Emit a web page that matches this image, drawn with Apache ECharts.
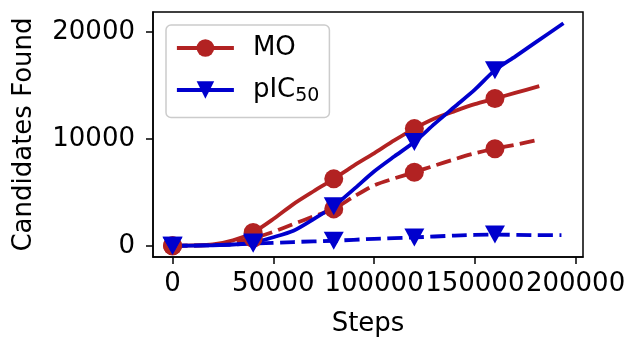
<!DOCTYPE html>
<html lang="en">
<head>
<meta charset="UTF-8">
<title>Candidates Found</title>
<style>
    * { margin: 0; padding: 0; }
    #chart { width: 631px; height: 337px; background: #fff; }
</style>
<script src="https://cdn.jsdelivr.net/npm/echarts@6/dist/echarts.min.js"></script>
</head>
<body>
<div id="chart"></div>
<script>
// steps where the markers sit
var markerSteps = [0, 40000, 80000, 120000, 160000];

// MO, solid
var moSteps = [0, 10000, 20000, 30000, 40000, 50000, 60000, 70000, 80000, 90000, 100000, 110000, 120000, 130000, 140000, 150000, 160000, 170000, 182000];
var moValues = [0, 30, 120, 500, 1250, 2500, 3900, 5100, 6260, 7500, 8650, 9850, 10960, 11900, 12600, 13250, 13770, 14300, 14930];

// MO, dashed
var moDashSteps = [0, 10000, 20000, 30000, 40000, 50000, 60000, 70000, 80000, 90000, 100000, 110000, 120000, 130000, 140000, 150000, 160000, 170000, 181000];
var moDashValues = [0, 20, 80, 300, 700, 1300, 2040, 2750, 3450, 4600, 5650, 6300, 6880, 7500, 8100, 8650, 9080, 9450, 9900];

// pIC50, solid
var picSteps = [0, 10000, 20000, 30000, 40000, 50000, 60000, 70000, 80000, 90000, 100000, 110000, 120000, 130000, 140000, 150000, 160000, 170000, 180000, 194000];
var picValues = [0, 20, 50, 120, 300, 800, 1410, 2500, 3700, 5300, 6950, 8350, 9700, 11400, 13000, 14600, 16430, 17700, 19000, 20820];

// pIC50, dashed
var picDashSteps = [0, 20000, 40000, 60000, 80000, 100000, 120000, 140000, 160000, 180000, 193000];
var picDashValues = [0, 50, 200, 350, 470, 650, 780, 950, 1050, 1000, 1000];

var xTicks = [0, 50000, 100000, 150000, 200000];
var yTicks = [0, 10000, 20000];

var red = '#b22222';
var blue = '#0000cd';
var font = 'DejaVu Sans';
var fs = 26;
var triDown = 'path://M0,0L20,0L10,18Z';

function toData(xs, ys) {
    return xs.map(function (x, i) {
        var item = { value: [x, ys[i]] };
        if (markerSteps.indexOf(x) < 0) item.symbol = 'none';
        return item;
    });
}

function lineSeries(name, xs, ys, color, symbol, size, dashed) {
    return {
        name: name,
        type: 'line',
        data: toData(xs, ys),
        smooth: 0.25,
        symbol: symbol,
        symbolSize: size,
        showSymbol: true,
        lineStyle: { color: color, width: 3.8, type: dashed ? [15, 6.5] : 'solid' },
        itemStyle: { color: color },
        emphasis: { disabled: true }
    };
}

var chart = echarts.init(document.getElementById('chart'));
chart.setOption({
    animation: false,
    textStyle: { fontFamily: font },
    grid: {
        left: 153, right: 48, top: 12, bottom: 80,
        outerBoundsMode: 'none', containLabel: false,
        show: true, borderColor: '#000', borderWidth: 1.5
    },
    legend: {
        data: ['MO', 'pIC50'],
        orient: 'vertical',
        left: 166, top: 25,
        padding: [10, 10, 12, 9],
        itemWidth: 57, itemHeight: 22, itemGap: 16,
        backgroundColor: '#fff',
        borderColor: '#cccccc', borderWidth: 1.5, borderRadius: 5,
        lineStyle: { width: 3.8 },
        formatter: function (name) {
            return name === 'pIC50' ? '{a|pIC}{s|50}' : '{a|' + name + '}';
        },
        textStyle: {
            color: '#000', fontSize: fs, fontFamily: font, padding: [0, 0, 0, 14],
            rich: {
                a: { fontSize: fs, color: '#000', fontFamily: font },
                s: { fontSize: 19, color: '#000', fontFamily: font, padding: [12, 0, 0, 0] }
            }
        }
    },
    xAxis: {
        type: 'value',
        min: -9700, max: 203700,
        name: 'Steps', nameLocation: 'middle', nameGap: 54,
        nameTextStyle: { fontSize: fs, color: '#000', fontFamily: font },
        axisLine: { show: true, onZero: false, lineStyle: { color: '#000', width: 1.5 } },
        axisTick: { show: true, length: 7, customValues: xTicks, lineStyle: { color: '#000', width: 1.5 } },
        axisLabel: {
            fontSize: fs, color: '#000', fontFamily: font, margin: 14, hideOverlap: false,
            customValues: xTicks, formatter: function (v) { return String(v); }
        },
        splitLine: { show: false }
    },
    yAxis: {
        type: 'value',
        min: -1050, max: 21870,
        name: 'Candidates Found', nameLocation: 'middle', nameGap: 116,
        nameTextStyle: { fontSize: fs, color: '#000', fontFamily: font },
        axisLine: { show: true, onZero: false, lineStyle: { color: '#000', width: 1.5 } },
        axisTick: { show: true, length: 7, customValues: yTicks, lineStyle: { color: '#000', width: 1.5 } },
        axisLabel: {
            fontSize: fs, color: '#000', fontFamily: font, margin: 18, hideOverlap: false,
            customValues: yTicks, formatter: function (v) { return String(v); }
        },
        splitLine: { show: false }
    },
    series: [
        lineSeries('MO', moSteps, moValues, red, 'circle', 19, false),
        lineSeries('MO dashed', moDashSteps, moDashValues, red, 'circle', 19, true),
        lineSeries('pIC50', picSteps, picValues, blue, triDown, [20, 18], false),
        lineSeries('pIC50 dashed', picDashSteps, picDashValues, blue, triDown, [20, 18], true)
    ]
});
</script>
</body>
</html>
